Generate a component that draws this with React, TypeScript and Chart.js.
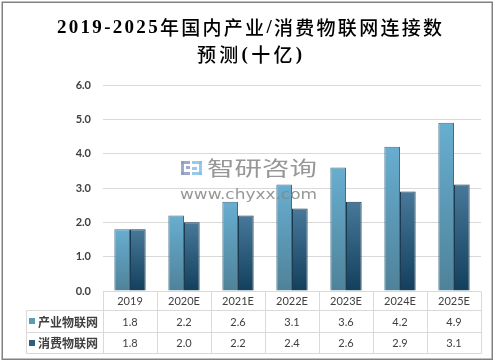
import React, { useEffect, useRef } from 'react';
import { Chart, registerables } from 'chart.js';

Chart.register(...registerables);

const categories = ['2019', '2020E', '2021E', '2022E', '2023E', '2024E', '2025E'];
const industrialIoT = [1.8, 2.2, 2.6, 3.1, 3.6, 4.2, 4.9];
const consumerIoT = [1.8, 2.0, 2.2, 2.4, 2.6, 2.9, 3.1];
const seriesNames = ['产业物联网', '消费物联网'];
const titleLines = ['2019-2025年国内产业/消费物联网连接数', '预测(十亿)'];
const yTicks = [0, 1, 2, 3, 4, 5, 6];

const S1 = { top: '#68aed0', bottom: '#4f8299', border: '#3f6f86', marker: '#5b9bb8' };
const S2 = { top: '#48799a', bottom: '#123f5c', border: '#1d3a4e', marker: '#2f5f7d' };

const LATIN_FONT = 'bold 19px "Liberation Serif"';
const CJK_FONT = '500 19px "Noto Sans CJK SC"';

function barFill(c: any, col: any) {
  const chart = c.chart;
  if (!chart.chartArea || c.raw == null || !chart.scales.y) return col.top;
  const ys = chart.scales.y;
  const top = ys.getPixelForValue(c.raw);
  const bot = ys.getPixelForValue(0);
  if (!isFinite(top) || !isFinite(bot) || top === bot) return col.top;
  const g = chart.ctx.createLinearGradient(0, top, 0, bot);
  g.addColorStop(0, col.top);
  g.addColorStop(1, col.bottom);
  return g;
}

function fontFor(ch: string) {
  return /[\u0000-\u00ff]/.test(ch) ? LATIN_FONT : CJK_FONT;
}

function drawSpaced(ctx: CanvasRenderingContext2D, text: string, cx: number, y: number, target: number) {
  const chars = Array.from(text);
  let w = 0;
  for (const ch of chars) {
    ctx.font = fontFor(ch);
    w += ctx.measureText(ch).width;
  }
  const n = chars.length;
  const sp = n > 1 ? (target - w) / (n - 1) : 0;
  let x = cx - target / 2;
  ctx.textAlign = 'left';
  for (const ch of chars) {
    ctx.font = fontFor(ch);
    ctx.fillText(ch, x, y);
    x += ctx.measureText(ch).width + sp;
  }
}

const decorPlugin = {
  id: 'decor',
  afterDatasetsDraw(chart: any) {
    const ctx: CanvasRenderingContext2D = chart.ctx;
    ctx.save();
    ctx.globalAlpha = 0.85;
    // logo icon
    ctx.fillStyle = '#8d9bc2';
    ctx.fillRect(181, 161, 9, 3);
    ctx.fillRect(181, 161, 3, 14);
    ctx.fillRect(186, 166, 4, 3);
    ctx.fillRect(181, 172, 9, 3);
    ctx.fillStyle = '#86bfe6';
    ctx.fillRect(192, 161, 10, 3);
    ctx.fillRect(199, 161, 3, 14);
    ctx.fillRect(192, 167, 5, 3);
    ctx.fillRect(192, 172, 10, 3);
    // text
    ctx.fillStyle = '#858585';
    ctx.textBaseline = 'alphabetic';
    ctx.font = '19px "Noto Sans CJK SC"';
    const t1 = '智研咨询';
    const w1 = ctx.measureText(t1).width;
    ctx.save();
    ctx.translate(207, 176);
    ctx.scale(110 / w1, 1.05);
    ctx.textAlign = 'left';
    ctx.fillText(t1, 0, 0);
    ctx.restore();
    ctx.font = '14px "DejaVu Sans"';
    const t2 = 'www.chyxx.com';
    const w2 = ctx.measureText(t2).width;
    ctx.save();
    ctx.translate(180, 199);
    ctx.scale(137 / w2, 1);
    ctx.textAlign = 'left';
    ctx.fillText(t2, 0, 0);
    ctx.restore();
    ctx.restore();
  },
  afterDraw(chart: any) {
    const ctx: CanvasRenderingContext2D = chart.ctx;
    const { left, right, bottom } = chart.chartArea;
    ctx.save();
    // title
    ctx.fillStyle = '#000000';
    ctx.textBaseline = 'middle';
    drawSpaced(ctx, titleLines[0], 249.5, 28, 385);
    drawSpaced(ctx, titleLines[1], 249.5, 55, 105);

    // table
    const n = categories.length;
    const colW = (right - left) / n;
    const r0 = bottom;
    const r1 = bottom + 19;
    const r2 = bottom + 41;
    const r3 = bottom + 62;
    const labelLeft = 25.5;
    const px = (v: number) => Math.round(v) + 0.5;
    ctx.strokeStyle = '#d9d9d9';
    ctx.lineWidth = 1;
    ctx.beginPath();
    for (const r of [r1, r2, r3]) {
      ctx.moveTo(px(labelLeft), px(r));
      ctx.lineTo(px(right), px(r));
    }
    for (let i = 0; i <= n; i++) {
      const x = px(left + i * colW);
      ctx.moveTo(x, px(r0));
      ctx.lineTo(x, px(r3));
    }
    ctx.moveTo(px(labelLeft), px(r1));
    ctx.lineTo(px(labelLeft), px(r3));
    ctx.stroke();

    ctx.fillStyle = '#404040';
    ctx.textAlign = 'center';
    ctx.textBaseline = 'middle';
    ctx.font = '11px Lato';
    const rows = [industrialIoT, consumerIoT];
    for (let i = 0; i < n; i++) {
      const cx = left + (i + 0.5) * colW;
      ctx.fillText(categories[i], cx, (r0 + r1) / 2 + 1);
      ctx.fillText(rows[0][i].toFixed(1), cx, (r1 + r2) / 2 + 1);
      ctx.fillText(rows[1][i].toFixed(1), cx, (r2 + r3) / 2 + 1);
    }
    const mids = [(r1 + r2) / 2, (r2 + r3) / 2];
    const cols = [S1, S2];
    ctx.font = 'bold 12px "Noto Sans CJK SC"';
    ctx.textAlign = 'left';
    for (let k = 0; k < 2; k++) {
      ctx.fillStyle = cols[k].marker;
      ctx.fillRect(29, Math.round(mids[k]) - 3, 6, 6);
      ctx.fillStyle = '#404040';
      ctx.fillText(seriesNames[k], 38, mids[k] + 1);
    }

    // outer border
    ctx.strokeStyle = '#808080';
    ctx.lineWidth = 1.5;
    ctx.strokeRect(2.25, 2.25, 490, 357);
    ctx.restore();
  },
};

export default function App() {
  const ref = useRef<HTMLCanvasElement | null>(null);
  useEffect(() => {
    if (!ref.current) return;
    const chart = new Chart(ref.current, {
      type: 'bar',
      data: {
        labels: categories,
        datasets: [
          {
            label: seriesNames[0],
            data: industrialIoT,
            backgroundColor: (c: any) => barFill(c, S1),
            borderColor: S1.border,
            borderWidth: 1,
            borderSkipped: 'bottom',
            categoryPercentage: 0.58,
            barPercentage: 1,
          },
          {
            label: seriesNames[1],
            data: consumerIoT,
            backgroundColor: (c: any) => barFill(c, S2),
            borderColor: S2.border,
            borderWidth: 1,
            borderSkipped: 'bottom',
            categoryPercentage: 0.58,
            barPercentage: 1,
          },
        ],
      },
      options: {
        responsive: false,
        animation: false,
        devicePixelRatio: 1,
        layout: { padding: { left: 73, right: 16, top: 85, bottom: 73 } },
        plugins: { legend: { display: false }, title: { display: false }, tooltip: { enabled: false } },
        scales: {
          x: { display: false },
          y: {
            min: 0,
            max: 6,
            afterFit: (s: any) => { s.width = 30; },
            afterBuildTicks: (s: any) => { s.ticks = yTicks.map((v) => ({ value: v })); },
            border: { display: false },
            grid: { color: '#d9d9d9', drawTicks: false, lineWidth: 1 },
            ticks: {
              padding: 12,
              color: '#404040',
              font: { family: 'Lato', size: 11, weight: 'bold' },
              callback: (v: any) => Number(v).toFixed(1),
            },
          },
        },
      },
      plugins: [decorPlugin],
    } as any);
    return () => chart.destroy();
  }, []);
  return (
    <div style={{ position: 'absolute', left: 0, top: 0, width: 497, height: 364, background: '#ffffff' }}>
      <canvas ref={ref} width={497} height={364} style={{ display: 'block' }} />
    </div>
  );
}
